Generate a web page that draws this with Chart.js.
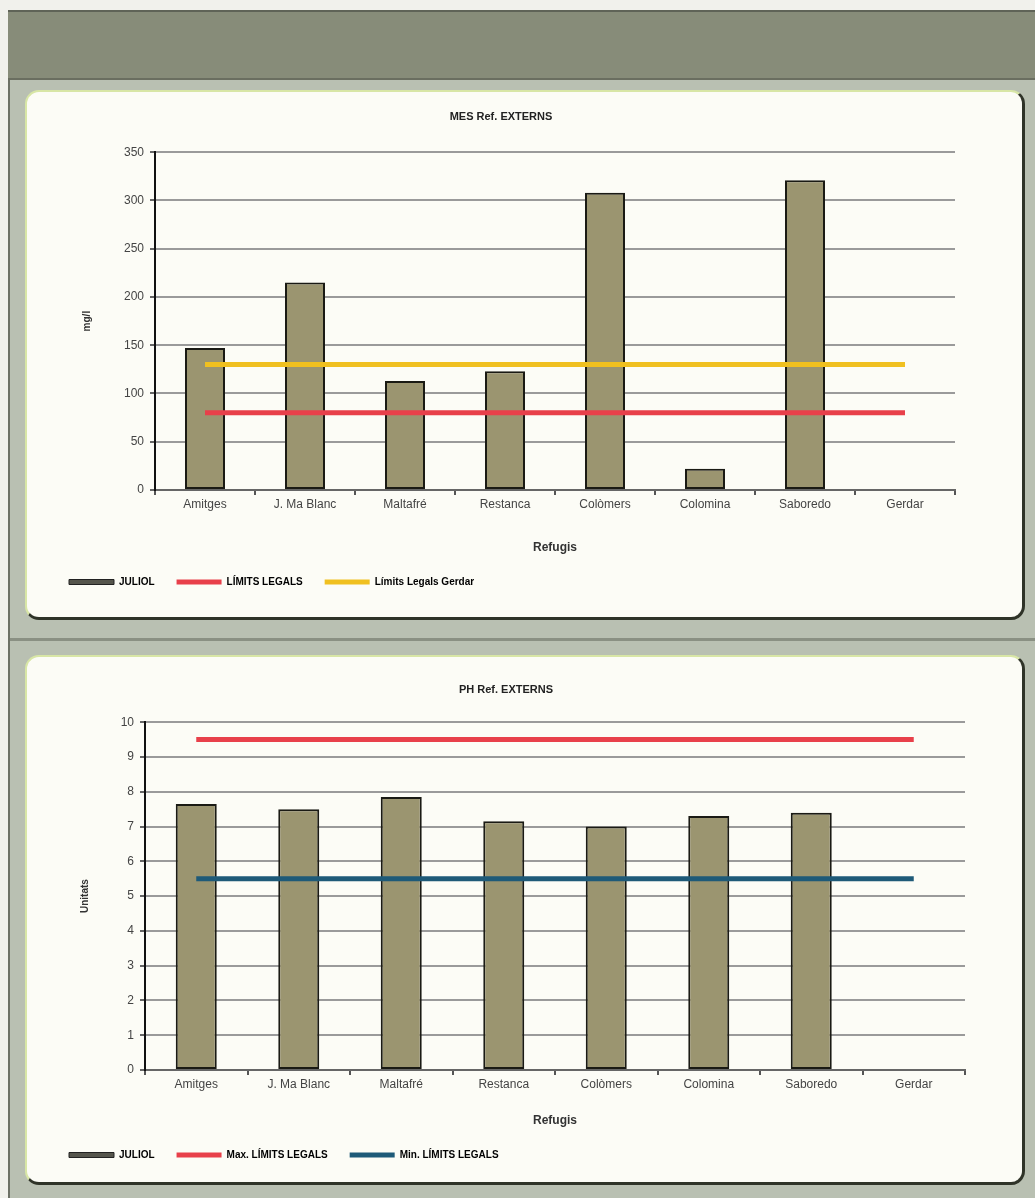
<!DOCTYPE html>
<html lang="ca">
<head>
<meta charset="UTF-8">
<title>MES / PH Ref. EXTERNS</title>
<script src="https://cdn.jsdelivr.net/npm/chart.js"></script>
<style>
  html, body { margin: 0; padding: 0; }
  body { width: 1035px; height: 1198px; background: #f1f1ec; position: relative; overflow: hidden;
         font-family: "Liberation Sans", Arial, sans-serif; }
  #frame { position: absolute; left: 8px; top: 10px; right: 0; bottom: 0; background: #b9c0b2;
           border-left: 2px solid #6d7166; }
  #band { position: absolute; left: 8px; top: 10px; right: 0; height: 66px; background: #878c79;
          border-top: 2px solid #5f6357; border-bottom: 2px solid #6a6e60; }
  #divider { position: absolute; left: 10px; right: 0; top: 638px; height: 3px; background: #8a9083; }
  .card { position: absolute; left: 25px; width: 1000px; height: 530px; background: #fcfcf6;
          border-radius: 14px; border-top: 2px solid #d8e6a6; border-left: 2px solid #d8e6a6;
          border-right: 3px solid #2f3328; border-bottom: 3px solid #2f3328; box-sizing: border-box; }
  .card canvas { position: absolute; left: 0; top: 0; }
</style>
</head>
<body>
<div id="frame"></div>
<div id="band"></div>
<div id="divider"></div>
<div class="card" style="top:90px"><canvas id="mes" width="995" height="525"></canvas></div>
<div class="card" style="top:655px"><canvas id="ph" width="995" height="525"></canvas></div>
<script>
const refugis = ['Amitges', 'J. Ma Blanc', 'Maltafré', 'Restanca', 'Colòmers', 'Colomina', 'Saboredo', 'Gerdar'];

// MES (mg/l)
const mesJuliol = [147, 215, 113, 123, 308, 22, 321, null];
const mesLimits = [80, 80, 80, 80, 80, 80, 80, 80];
const mesLimitsGerdar = [130, 130, 130, 130, 130, 130, 130, 130];
const mesTicks = [0, 50, 100, 150, 200, 250, 300, 350];

// PH (unitats)
const phJuliol = [7.65, 7.5, 7.85, 7.15, 7.0, 7.3, 7.4, null];
const phMax = [9.5, 9.5, 9.5, 9.5, 9.5, 9.5, 9.5, 9.5];
const phMin = [5.5, 5.5, 5.5, 5.5, 5.5, 5.5, 5.5, 5.5];
const phTicks = [0, 1, 2, 3, 4, 5, 6, 7, 8, 9, 10];

const FONT = '"Liberation Sans", Arial, sans-serif';
const barColor = '#9b9570';
const gridGray = '#9a9a9a';

function makeChart(id, o) {
  const n = refugis.length;
  return new Chart(document.getElementById(id), {
    data: {
      labels: refugis,
      datasets: [
        { type: 'bar', label: 'JULIOL', data: o.bars, backgroundColor: barColor,
          borderColor: '#1a1a14', borderWidth: 2, borderSkipped: false,
          barPercentage: 0.4, categoryPercentage: 1, order: 2 },
        { type: 'line', label: o.l1, data: o.line1, borderColor: o.c1, backgroundColor: o.c1,
          borderWidth: 5, pointRadius: 0, order: 1 },
        { type: 'line', label: o.l2, data: o.line2, borderColor: o.c2, backgroundColor: o.c2,
          borderWidth: 5, pointRadius: 0, order: 0 }
      ]
    },
    options: {
      responsive: false,
      animation: false,
      layout: { padding: { left: 20, right: o.padRight, top: 0, bottom: o.padBottom } },
      plugins: {
        title: { display: true, text: o.title, color: '#222',
          font: { family: FONT, size: 11, weight: 'bold' }, padding: { top: o.titleTop, bottom: o.titleBottom } },
        legend: {
          position: 'bottom', align: 'start',
          labels: {
            boxWidth: 45, boxHeight: 5, padding: 22, color: '#555',
            font: { family: FONT, size: 10, weight: 'bold' },
            generateLabels: (chart) => chart.data.datasets.map((ds, i) => ({
              text: ds.label,
              fillStyle: i === 0 ? '#55554c' : ds.borderColor,
              strokeStyle: i === 0 ? '#222' : ds.borderColor,
              lineWidth: i === 0 ? 1 : 0,
              datasetIndex: i
            }))
          }
        },
        tooltip: { enabled: false }
      },
      scales: {
        x: {
          offset: true,
          afterFit: (s) => { s.height = o.xHeight; },
          grid: { offset: true, drawOnChartArea: true, tickLength: 5, lineWidth: 2,
                  color: (c) => c.index === n ? '#333' : 'rgba(0,0,0,0)', tickColor: '#555' },
          border: { display: true, color: '#666', width: 2 },
          ticks: { color: '#444', font: { family: FONT, size: 12 }, padding: 2, maxRotation: 0, autoSkip: false },
          title: { display: true, text: 'Refugis', color: '#333', font: { family: FONT, size: 12, weight: 'bold' },
                   padding: { top: 14, bottom: 0 } }
        },
        y: {
          min: o.ticks[0], max: o.ticks[o.ticks.length - 1],
          afterFit: (s) => { s.width = o.yWidth; },
          afterBuildTicks: (s) => { s.ticks = o.ticks.map(v => ({ value: v })); },
          grid: { color: gridGray, lineWidth: 2, tickLength: 5, tickColor: '#666' },
          border: { display: true, color: '#111', width: 2 },
          ticks: { color: '#444', font: { family: FONT, size: 12 }, padding: 6 },
          title: { display: true, text: o.yTitle, color: '#333', font: { family: FONT, size: 10, weight: 'bold' },
                   padding: { top: o.yTitlePad, bottom: 0 } }
        }
      }
    }
  });
}

makeChart('mes', {
  title: 'MES Ref. EXTERNS', yTitle: 'mg/l',
  bars: mesJuliol, line1: mesLimits, line2: mesLimitsGerdar, ticks: mesTicks,
  l1: 'LÍMITS LEGALS', c1: '#e8404a', l2: 'Límits Legals Gerdar', c2: '#f0c020',
  padRight: 67, padBottom: 20, yWidth: 108, yTitlePad: 34, xHeight: 65, titleTop: 18, titleBottom: 29
});

makeChart('ph', {
  title: 'PH Ref. EXTERNS', yTitle: 'Unitats',
  bars: phJuliol, line1: phMax, line2: phMin, ticks: phTicks,
  l1: 'Max. LÍMITS LEGALS', c1: '#e8404a', l2: 'Min. LÍMITS LEGALS', c2: '#1e5a78',
  padRight: 57, padBottom: 12, yWidth: 98, yTitlePad: 32, xHeight: 58, titleTop: 26, titleBottom: 26
});
</script>
</body>
</html>
